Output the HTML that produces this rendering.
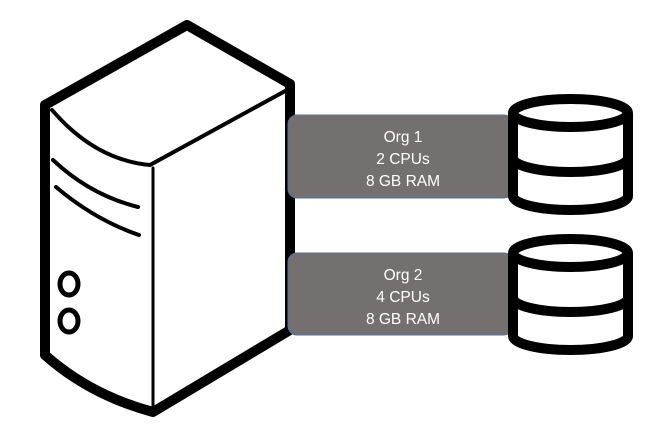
<!DOCTYPE html>
<html><head><style>
body{margin:0;background:#fff;width:660px;height:425px;overflow:hidden;font-family:"Liberation Sans",sans-serif}
.t{fill:#fff;font-size:15.5px;text-anchor:middle;font-family:"Liberation Sans",sans-serif}
</style></head><body>
<svg width="660" height="425" viewBox="0 0 660 425">
<g fill="none" stroke="#000" stroke-linejoin="round" stroke-linecap="round">
<path d="M187,25 L290,84 L290,330 L153,412 Q90,395 45,355 L45,105 Z" stroke-width="10" fill="#fff"/>
<path d="M52,110 Q95,160 150,165 L287,90" stroke-width="4"/>
<path d="M153,168 L153,407" stroke-width="3"/>
<path d="M53,160 Q90,195 138,207" stroke-width="4"/>
<path d="M56,187 Q95,220 139,235" stroke-width="4"/>
<ellipse cx="69" cy="284" rx="9" ry="11" stroke-width="5"/>
<ellipse cx="69" cy="321" rx="9" ry="11" stroke-width="5"/>
</g>
<rect x="288" y="115" width="225" height="83" rx="9" fill="#757070" stroke="#5570a0" stroke-width="1"/>
<rect x="288" y="253" width="225" height="82" rx="9" fill="#757070" stroke="#5570a0" stroke-width="1"/>
<text class="t" x="403" y="142">Org 1</text>
<text class="t" x="403" y="164">2 CPUs</text>
<text class="t" x="403" y="186">8 GB RAM</text>
<text class="t" x="403" y="280">Org 2</text>
<text class="t" x="403" y="302">4 CPUs</text>
<text class="t" x="403" y="324">8 GB RAM</text>
<g fill="#fff" stroke="#000" stroke-width="10">
<g>
<path d="M513,113 L513,196 A57.5,14 0 0 0 628,196 L628,113"/>
<ellipse cx="570.5" cy="113" rx="57.5" ry="14"/>
<path d="M513,158 A57.5,14 0 0 0 628,158" fill="none"/>
</g>
<g transform="translate(0,140)">
<path d="M513,113 L513,196 A57.5,14 0 0 0 628,196 L628,113"/>
<ellipse cx="570.5" cy="113" rx="57.5" ry="14"/>
<path d="M513,158 A57.5,14 0 0 0 628,158" fill="none"/>
</g>
</g>
</svg>
</body></html>
